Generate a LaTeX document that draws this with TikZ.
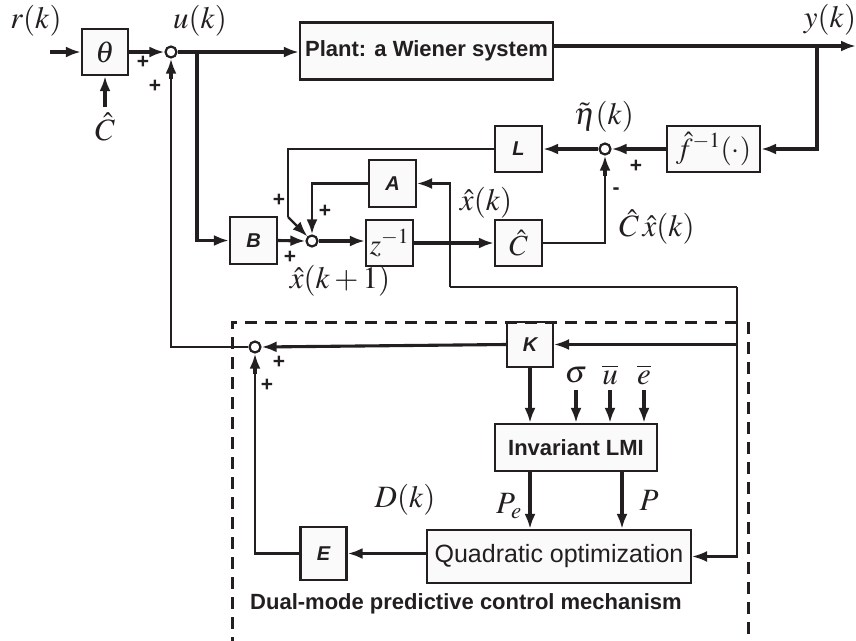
\documentclass[tikz,border=0pt]{standalone}
\usepackage{mathptmx}
\usepackage{fontspec}
\setsansfont{Liberation Sans}
\usetikzlibrary{arrows.meta}
\definecolor{boxfill}{HTML}{FAFAFA}
\definecolor{ink}{HTML}{231F20}
\tikzset{
  blk/.style={draw=ink, line width=2.2pt, fill=boxfill, inner sep=0pt, text=ink},
  sumc/.style={circle, draw=ink, line width=2.2pt, fill=white, minimum size=11pt, inner sep=0pt},
  arr/.style={draw=ink, line width=3.1pt, -{Latex[length=15pt,width=11pt]}},
  tarr/.style={draw=ink, line width=2.3pt, -{Latex[length=15pt,width=11pt]}},
  tln/.style={draw=ink, line width=2.3pt},
  mlab/.style={text=ink, inner sep=0pt, font=\fontsize{31}{34}\selectfont},
  blab/.style={font=\sffamily\bfseries\itshape\fontsize{20}{24}\selectfont},
  pm/.style={text=ink, inner sep=0pt, font=\sffamily\bfseries\fontsize{21}{24}\selectfont},
  dsh/.style={draw=ink, line width=3pt, dash pattern=on 12pt off 8pt}
}
\begin{document}
\begin{tikzpicture}[x=1pt,y=-1pt]
\useasboundingbox (0,0) rectangle (856,640);

% blocks
\node[blk, minimum width=46pt, minimum height=46pt, font=\fontsize{30}{33}\selectfont] (theta) at (105,52) {$\theta$};
\node[sumc] (s1) at (171,52) {};
\node[blk, minimum width=253pt, minimum height=57pt, font=\sffamily\bfseries\fontsize{22}{26}\selectfont] (plant) at (426.5,51) {Plant: a Wiener system};
\node[blk, minimum width=93pt, minimum height=46pt, font=\fontsize{29}{32}\selectfont] (f) at (713.5,149) {$\hat{f}^{-1}(\mathbf{\cdot})$};
\node[sumc] (s2) at (605,149) {};
\node[blk, blab, minimum width=47pt, minimum height=46pt] (L) at (518.5,149) {L};
\node[blk, blab, minimum width=47pt, minimum height=47pt] (A) at (392.5,183.5) {A};
\node[blk, blab, minimum width=47pt, minimum height=47pt] (B) at (253.5,240.5) {B};
\node[sumc] (s3) at (312,241) {};
\node[blk, minimum width=47pt, minimum height=46pt, font=\fontsize{29}{32}\selectfont] (z) at (389.5,243) {$z^{-1}$};
\node[blk, minimum width=47pt, minimum height=46pt, font=\fontsize{29}{32}\selectfont] (Ch) at (518.5,243) {$\hat{C}$};
\node[blk, blab, minimum width=46pt, minimum height=45pt] (K) at (530,344.5) {K};
\node[sumc] (s4) at (255,347) {};
\node[blk, minimum width=162pt, minimum height=47pt, font=\sffamily\bfseries\fontsize{22}{26}\selectfont] (LMI) at (576,447.5) {Invariant LMI};
\node[blk, minimum width=264pt, minimum height=53pt, font=\sffamily\fontsize{25}{28}\selectfont] (QO) at (559,556.5) {Quadratic optimization};
\node[blk, blab, minimum width=46pt, minimum height=53pt] (E) at (323.5,553.5) {E};

% free ends and junctions
\coordinate (rin) at (50,52);
\coordinate (cin) at (105,107);
\coordinate (yout) at (856,46);
\coordinate (ytap) at (817,46);
\coordinate (utap) at (197,52);
\coordinate (lc) at (288,149);
\coordinate (ld) at (288,217);
\coordinate (j1) at (737,287);
\coordinate (j2) at (737,344.5);
\coordinate (j0) at (450,287);
\coordinate (sg) at (576,390);
\coordinate (ub) at (610,390);
\coordinate (eb) at (644,390);

% connectors
\draw[arr] (rin) -- (theta.west);
\draw[arr] (cin) -- (theta.south);
\draw[arr] (theta.east) -- (s1.west);
\draw[arr] (s1.east) -- (s1.east -| plant.west);
\draw[arr] (plant.east |- yout) -- (yout);
\draw[arr] (ytap) |- (f.east);
\draw[arr] (f.west) -- (s2.east);
\draw[arr] (s2.west) -- (L.east);
\draw[tln] (L.west) -- (lc) -- (ld);
\draw[tarr] (ld) -- (s3);
\draw[tln] (A.west) -| ([yshift=14pt]s3.north);
\draw[arr] ([yshift=14pt]s3.north) -- (s3.north);
\draw[arr] (utap) |- (B.west);
\draw[arr] (B.east) -- (s3.west);
\draw[arr] (s3.east) -- (s3.east -| z.west);
\draw[arr] (z.east) -- (z.east -| Ch.west);
\draw[tln] (Ch.east) -| ([yshift=-20pt]s2.south);
\draw[arr] ([yshift=-20pt]s2.south) -- (s2.south);
\draw[tln] (j1) -- (j0);
\draw[tarr] (j0) |- (A.east);
\draw[tarr] (j1) |- (QO.east);
\draw[tarr] (j2) -- (K.east);
\draw[arr] (K.west) -- (s4.east);
\draw[tln] (s4.west) -| ([yshift=-20pt]s1.south);
\draw[arr] ([yshift=-20pt]s1.south) -- (s1.south);
\draw[arr] (K.south) -- (K.south |- LMI.north);
\draw[arr] (sg) -- (sg |- LMI.north);
\draw[arr] (ub) -- (ub |- LMI.north);
\draw[arr] (eb) -- (eb |- LMI.north);
\draw[arr] (LMI.south -| K.south) -- (QO.north -| K.south);
\draw[arr] ([xshift=46pt]LMI.south) -- ([xshift=46pt]LMI.south |- QO.north);
\draw[arr] (QO.west |- E.east) -- (E.east);
\draw[tln] (E.west) -| ([yshift=-20pt]s4.south);
\draw[arr] ([yshift=-20pt]s4.south) -- (s4.south);

% dashed frame
\draw[dsh] (737,322) -- (232,322) -- (232,645);
\draw[dsh] (748,322) -- (748,645);

% labels
\node[mlab] (lr) at (36,21) {$r(k)$};
\node[mlab] (lch) at (105,127) {$\hat{C}$};
\node[mlab] (lu) at (200,21) {$u(k)$};
\node[mlab] (ly) at (830,20) {$y(k)$};
\node[mlab] (leta) at (604,117) {$\tilde{\eta}(k)$};
\node[mlab] (lcx) at (657,227) {$\hat{C}\,\hat{x}(k)$};
\node[mlab] (lx) at (486,203) {$\hat{x}(k)$};
\node[mlab] (lx1) at (340,281) {$\hat{x}(k+1)$};
\node[mlab] (lsg) at (576,375) {$\sigma$};
\node[mlab] (lub) at (610,375) {$\overline{u}$};
\node[mlab] (leb) at (644,375) {$\overline{e}$};
\node[mlab] (lD) at (405,500) {$D(k)$};
\node[mlab] (lPe) at (509,506) {$P_e$};
\node[mlab] (lP) at (649,500) {$P$};
\node[pm] (p1) at (143,62) {+};
\node[pm] (p2) at (155,86) {+};
\node[pm] (p3) at (636,166) {+};
\node[pm] (m1) at (616,191) {-};
\node[pm] (p4) at (279,200) {+};
\node[pm] (p5) at (325,211) {+};
\node[pm] (p6) at (290,257) {+};
\node[pm] (p7) at (279,362) {+};
\node[pm] (p8) at (267,385) {+};
\node[text=ink, font=\sffamily\bfseries\fontsize{22}{26}\selectfont, anchor=west, inner sep=0pt] (dm) at (250,604) {Dual-mode predictive control mechanism};
\end{tikzpicture}
\end{document}
